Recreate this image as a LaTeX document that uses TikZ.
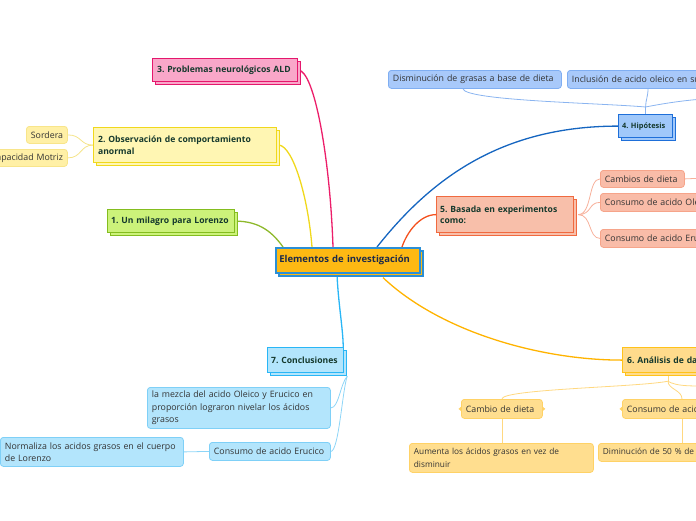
\documentclass[tikz,border=0pt]{standalone}
\usepackage{fontspec}
\setmainfont{Open Sans}
\usetikzlibrary{shadows,calc,backgrounds}
\definecolor{mainfill}{HTML}{FDB913}
\definecolor{mainedge}{HTML}{2B8FD6}
\definecolor{maintext}{HTML}{1C2A4A}
\definecolor{ttext}{HTML}{15392D}
\definecolor{ctext}{HTML}{333333}
\definecolor{pkfill}{HTML}{F9A7C9}\definecolor{pkedge}{HTML}{E5176D}\definecolor{pkline}{HTML}{EC1E6A}
\definecolor{ylfill}{HTML}{FFF6B3}\definecolor{yledge}{HTML}{F0D81C}\definecolor{ylline}{HTML}{F0D81C}
\definecolor{ylcfill}{HTML}{FFF0A6}\definecolor{ylcedge}{HTML}{F8E58A}\definecolor{ylcline}{HTML}{F5E48A}
\definecolor{grfill}{HTML}{CCF27A}\definecolor{gredge}{HTML}{84BD1F}\definecolor{grline}{HTML}{8DB82A}
\definecolor{blfill}{HTML}{A0C8FA}\definecolor{bledge}{HTML}{1E6FD9}\definecolor{blline}{HTML}{1565C0}
\definecolor{blcfill}{HTML}{A8C9FA}\definecolor{blcedge}{HTML}{7FAEF2}\definecolor{blcline}{HTML}{8AB4F0}
\definecolor{safill}{HTML}{F8BFAA}\definecolor{saedge}{HTML}{F06A40}\definecolor{saline}{HTML}{F4511E}
\definecolor{sacfill}{HTML}{F9BCA8}\definecolor{sacedge}{HTML}{F6A48A}\definecolor{sacline}{HTML}{F7B09A}
\definecolor{orfill}{HTML}{FFDB8C}\definecolor{oredge}{HTML}{FFC21A}\definecolor{orline}{HTML}{FFB300}
\definecolor{orcfill}{HTML}{FFDE8F}\definecolor{orcedge}{HTML}{FFD266}\definecolor{orcline}{HTML}{FFD880}
\definecolor{lbfill}{HTML}{B3E5FC}\definecolor{lbedge}{HTML}{29B6F6}\definecolor{lbline}{HTML}{29B6F6}
\definecolor{lbcfill}{HTML}{B3E5FC}\definecolor{lbcedge}{HTML}{7FD0F7}\definecolor{lbcline}{HTML}{8DD5F7}
\frenchspacing
\newcommand{\nbx}[1]{\mbox{#1}}
\begin{document}
\begin{tikzpicture}[x=1pt,y=-1pt,
  every node/.style={anchor=north west,inner xsep=4.5pt,inner ysep=0pt,align=left},
  titlebox/.style={draw,line width=1.2pt,font=\fontsize{8.6}{11.5}\selectfont\bfseries,text=ttext,
     copy shadow={shadow xshift=3pt,shadow yshift=-3pt}},
  childbox/.style={draw,line width=0.8pt,rounded corners=3pt,font=\fontsize{8.8}{12.3}\selectfont,text=ctext},
  conn/.style={line width=1.3pt},
  cconn/.style={line width=0.8pt}]
\useasboundingbox (0,0) rectangle (696,520);
\clip (0,0) rectangle (696,520);
% main
\node[draw=mainedge,fill=mainfill,line width=1.6pt,text=maintext,font=\fontsize{9.5}{11}\selectfont\bfseries,
  copy shadow={shadow xshift=3pt,shadow yshift=-3pt},text width=137pt,minimum height=25pt,inner xsep=3.5pt] (main) at (275,247) {\nbx{Elementos de investigación}};
% titles
\node[titlebox,draw=pkedge,fill=pkfill,text width=136pt,minimum height=23pt] (n3) at (152,58) {\nbx{3. Problemas neurológicos ALD}};
\node[titlebox,draw=yledge,fill=ylfill,text width=174pt,minimum height=35pt] (n2) at (93,127) {\nbx{2. Observación de comportamiento}\\\nbx{anormal}};
\node[titlebox,draw=gredge,fill=grfill,text width=120pt,minimum height=23pt,inner xsep=3.5pt] (n1) at (107,209) {\nbx{1. Un milagro para Lorenzo}};
\node[titlebox,draw=bledge,fill=blfill,text width=47pt,minimum height=23pt,font=\fontsize{7.4}{9}\selectfont\bfseries,inner xsep=3.5pt] (n4) at (618,114) {\nbx{4. Hipótesis}};
\node[titlebox,draw=saedge,fill=safill,text width=130pt,minimum height=36pt,inner xsep=3.5pt] (n5) at (436,196) {\nbx{5. Basada en experimentos}\\\nbx{como:}};
\node[titlebox,draw=oredge,fill=orfill,text width=110pt,minimum height=25pt] (n6) at (622,347) {\nbx{6. Análisis de datos}};
\node[titlebox,draw=lbedge,fill=lbfill,text width=69pt,minimum height=25pt,inner xsep=3.5pt] (n7) at (267,347) {\nbx{7. Conclusiones}};
% children of 2
\node[childbox,draw=ylcedge,fill=ylcfill,text width=32pt,minimum height=17pt,align=right] (sord) at (26,126) {\nbx{Sordera}};
\node[childbox,draw=ylcedge,fill=ylcfill,text width=88pt,minimum height=17pt,align=right] (inca) at (-30,149) {\nbx{Incapacidad Motriz}};
% children of 4
\node[childbox,draw=blcedge,fill=blcfill,text width=164pt,minimum height=18pt] (dism) at (388,70) {\nbx{Disminución de grasas a base de dieta}};
\node[childbox,draw=blcedge,fill=blcfill,text width=180pt,minimum height=18pt] (incl) at (567,70) {\nbx{Inclusión de acido oleico en su dieta}};
% children of 5
\node[childbox,draw=sacedge,fill=sacfill,text width=75pt,minimum height=17pt] (cam) at (600,170) {\nbx{Cambios de dieta}};
\node[childbox,draw=sacedge,fill=sacfill,text width=130pt,minimum height=18pt] (col) at (600,193) {\nbx{Consumo de acido Oleico}};
\node[childbox,draw=sacedge,fill=sacfill,text width=130pt,minimum height=18pt] (ceb) at (600,229) {\nbx{Consumo de acido Erucico}};
% children of 6
\node[childbox,draw=orcedge,fill=orcfill,text width=72pt,minimum height=19pt] (cd) at (461,399) {\nbx{Cambio de dieta}};
\node[childbox,draw=orcedge,fill=orcfill,text width=130pt,minimum height=19pt] (cac) at (622,399) {\nbx{Consumo de acido Oleico}};
\node[childbox,draw=orcedge,fill=orcfill,text width=175pt,minimum height=29pt,font=\fontsize{8.3}{12.3}\selectfont] (aum) at (409,443) {\nbx{Aumenta los ácidos grasos en vez de}\\\nbx{disminuir}};
\node[childbox,draw=orcedge,fill=orcfill,text width=170pt,minimum height=18pt,font=\fontsize{8.3}{12}\selectfont] (dim) at (598,443) {\nbx{Diminución de 50 \% de ácidos grasos}};
% children of 7
\node[childbox,draw=lbcedge,fill=lbcfill,text width=174pt,minimum height=41pt] (mez) at (147,387) {\nbx{la mezcla del acido Oleico y Erucico en}\\\nbx{proporción lograron nivelar los ácidos}\\\nbx{grasos}};
\node[childbox,draw=lbcedge,fill=lbcfill,text width=112pt,minimum height=18pt] (eru) at (209,442) {\nbx{Consumo de acido Erucico}};
\node[childbox,draw=lbcedge,fill=lbcfill,text width=174pt,minimum height=29pt] (nor) at (0,437) {\nbx{Normaliza los acidos grasos en el cuerpo}\\\nbx{de Lorenzo}};
% small pointers on 6's children
\fill[orcedge] ($(cd.west)+(0.5,-2.5)$) -- ++(-3,2.5) -- ++(3,2.5) -- cycle;
\fill[orcedge] ($(cd.east)+(-0.5,-2.5)$) -- ++(3,2.5) -- ++(-3,2.5) -- cycle;
\fill[orcedge] ($(cac.west)+(0.5,-2.5)$) -- ++(-3,2.5) -- ++(3,2.5) -- cycle;
\begin{pgfonlayer}{background}
\clip (0,0) rectangle (696,520);
% main connectors
\draw[conn,grline] (n1.east) .. controls +(25,0) and +(-10,-14) .. ($(main.north west)+(8,0)$);
\draw[conn,ylline] ($(n2.east)+(2,0)$) .. controls +(14,2) and +(-4,-50) .. ($(main.north west)+(37,0)$);
\draw[conn,pkline] (n3.east) .. controls +(16,0) and +(-3,-90) .. ($(main.north west)+(58,0)$);
\draw[conn,blline] (n4.west) .. controls +(-118,0) and +(53,-67) .. ($(main.north west)+(102,0)$);
\draw[conn,saline] (n5.west) .. controls +(-16,0) and +(5,-15) .. ($(main.north west)+(127,0)$);
\draw[conn,orline] ($(main.south west)+(108,4)$) .. controls +(57,54) and +(-82,0) .. (n6.west);
\draw[conn,lbline] ($(main.south west)+(62,0)$) .. controls +(1,28) and +(0,-17) .. ($(n7.north east)+(-1,0)$);
% children connectors of 2
\draw[cconn,ylcline] (n2.west) .. controls +(-13,0) and +(14,0) .. (sord.east);
\draw[cconn,ylcline] (n2.west) .. controls +(-13,0) and +(14,0) .. (inca.east);
% children connectors of 4
\coordinate (hj) at ($(n4.north)+(0,-7)$);
\coordinate (hr) at (705,99);
\draw[cconn,blcline] (n4.north) -- (hj);
\draw[cconn,blcline] (hj) .. controls +(-45,-4) and +(3,12) .. ($(dism.south)+(-12,0)$);
\draw[cconn,blcline] (hj) .. controls +(0,-7) and +(0,8) .. ($(incl.south west)+(81,0)$);
\draw[cconn,blcline] (hj) .. controls +(15,-3) and +(-20,1) .. (hr);
% children connectors of 5
\coordinate (sj) at ($(n5.east)+(4,0)$);
\coordinate (sr) at (705,178);
\draw[cconn,sacline] (sj) .. controls +(14,0) and +(-12,0) .. (cam.west);
\draw[cconn,sacline] (sj) .. controls +(14,0) and +(-12,0) .. (col.west);
\draw[cconn,sacline] (sj) .. controls +(14,0) and +(-12,0) .. (ceb.west);
\draw[cconn,sacline] (cam.east) -- (sr);
% children connectors of 6
\coordinate (oj) at ($(n6.south west)+(46,8)$);
\coordinate (or) at (705,386);
\draw[cconn,orcline] ($(n6.south west)+(46,0)$) -- (oj);
\draw[cconn,orcline] (oj) .. controls +(-30,6) and +(0,-10) .. (cd.north);
\draw[cconn,orcline] (oj) .. controls +(0,8) and +(0,-9) .. ($(cac.north west)+(60,0)$);
\draw[cconn,orcline] (oj) .. controls +(8,5) and +(-15,0) .. (or);
\draw[cconn,orcline] (cd.south) -- (cd.south |- aum.north);
\draw[cconn,orcline] ($(cac.south west)+(60,0)$) -- ($(dim.north west)+(84,0)$);
% children connectors of 7
\coordinate (lj) at ($(n7.south east)+(3,3)$);
\draw[cconn,lbcline] (lj) .. controls +(-7,8) and +(8,0) .. (mez.east);
\draw[cconn,lbcline] (lj) .. controls +(-5,15) and +(8,0) .. (eru.east);
\draw[cconn,lbcline] (eru.west) -- (nor.east);
\end{pgfonlayer}
\end{tikzpicture}
\end{document}
